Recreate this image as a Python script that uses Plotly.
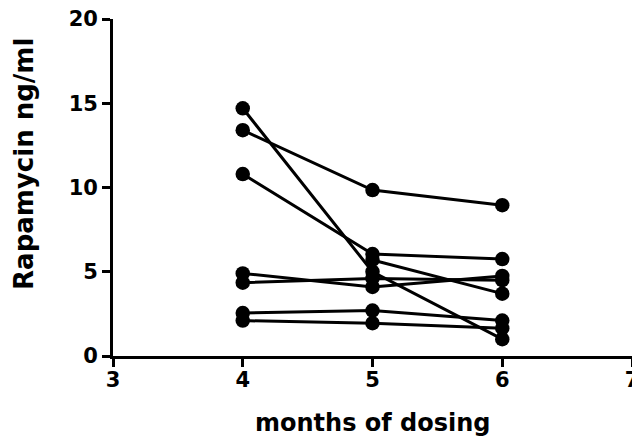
import plotly.graph_objects as go

months = [4, 5, 6]
subject_values = {
    "s1": [14.7, 5.0, 1.0],
    "s2": [13.4, 9.85, 8.95],
    "s3": [10.8, 6.05, 5.75],
    "s4": [None, 5.7, 3.7],
    "s5": [4.9, 4.1, 4.75],
    "s6": [4.35, 4.6, 4.5],
    "s7": [2.55, 2.7, 2.1],
    "s8": [2.1, 1.95, 1.65],
}
x_ticks = [3, 4, 5, 6, 7]
y_ticks = [0, 5, 10, 15, 20]
x_title = "months of dosing"
y_title = "Rapamycin ng/ml"

fig = go.Figure()
for name, vals in subject_values.items():
    fig.add_trace(go.Scatter(
        x=months, y=vals, mode="lines+markers", name=name,
        line=dict(color="black", width=3),
        marker=dict(color="black", size=14.5),
        connectgaps=False, showlegend=False, cliponaxis=False,
    ))

font_family = "DejaVu Sans, Liberation Sans, sans-serif"
fig.update_layout(
    width=640, height=441,
    margin=dict(l=105, r=16, t=11, b=93, autoexpand=False),
    paper_bgcolor="white", plot_bgcolor="white",
    font=dict(family=font_family, color="black"),
)
fig.update_xaxes(
    range=[3, 7], tickvals=x_ticks, ticktext=["<b>%d</b>" % v for v in x_ticks],
    showline=True, linecolor="black", linewidth=2.8,
    ticks="outside", ticklen=8, tickwidth=2.8, tickcolor="black",
    showgrid=False, zeroline=False, automargin=False,
    ticklabeloverflow="allow", ticklabelstandoff=-5,
    tickfont=dict(size=21, family=font_family),
)
fig.update_yaxes(
    range=[0, 20], tickvals=y_ticks, ticktext=["<b>%d</b>" % v for v in y_ticks],
    showline=True, linecolor="black", linewidth=2.8,
    ticks="outside", ticklen=8, tickwidth=2.8, tickcolor="black",
    showgrid=False, zeroline=False, automargin=False,
    ticklabeloverflow="allow",
    tickfont=dict(size=21, family=font_family),
)
fig.add_annotation(
    text="<b>%s</b>" % x_title, xref="paper", yref="paper", x=0.5, y=0,
    xanchor="center", yanchor="middle", yshift=-67, showarrow=False,
    font=dict(size=24, family=font_family, color="black"),
)
fig.add_annotation(
    text="<b>%s</b>" % y_title, xref="paper", yref="paper", x=0, y=0.57,
    xanchor="center", yanchor="middle", xshift=-89, textangle=-90, showarrow=False,
    font=dict(size=26, family=font_family, color="black"),
)
fig.write_html("out.html")
